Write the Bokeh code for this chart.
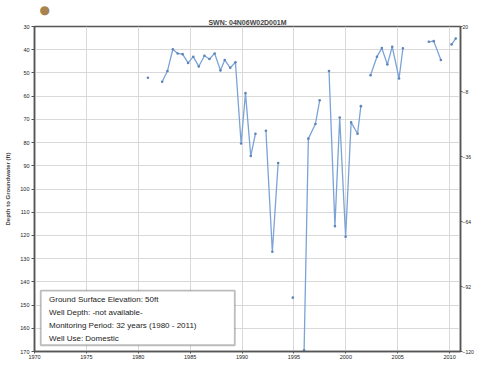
from bokeh.plotting import figure
from bokeh.models import (Range1d, LinearAxis, FixedTicker, BoxAnnotation, Label, Title)
from bokeh.embed import file_html
from bokeh.resources import INLINE

nan = float("nan")

# Measurement dates (decimal years) and depth to groundwater (ft); NaN = gap
years = [1980.93, nan,
         1982.30, 1982.81, 1983.33, 1983.80, 1984.27, 1984.80, 1985.30, 1985.83,
         1986.37, 1986.86, 1987.36, 1987.92, 1988.33, 1988.86, 1989.36, 1989.91,
         1990.33, 1990.84, 1991.29, nan,
         1992.30, 1992.92, 1993.48, nan,
         1994.89, nan,
         1995.98, 1996.39, 1997.07, 1997.48, nan,
         1998.38, 1998.95, 1999.41, 1999.98, 2000.51, 2001.13, 2001.45, nan,
         2002.38, 2003.00, 2003.47, 2004.00, 2004.47, 2005.13, 2005.50, nan,
         2008.00, 2008.47, 2009.16, nan,
         2010.19, 2010.59]
depth = [52.1, nan,
         53.8, 49.2, 39.8, 41.6, 41.9, 45.7, 43.0, 47.2,
         42.6, 44.0, 41.6, 48.9, 44.4, 47.8, 45.4, 80.4,
         58.7, 85.8, 76.2, nan,
         74.9, 127.0, 88.8, nan,
         146.8, nan,
         169.5, 78.3, 72.0, 61.8, nan,
         49.2, 116.0, 69.2, 120.6, 71.3, 76.2, 64.3, nan,
         51.0, 43.0, 39.3, 46.4, 38.7, 52.4, 39.4, nan,
         36.6, 36.3, 44.4, nan,
         37.7, 35.2]

ground_elev = 50
x_ticks = [1970, 1975, 1980, 1985, 1990, 1995, 2000, 2005, 2010]
depth_ticks = list(range(30, 171, 10))
elev_ticks = [20, -8, -36, -64, -92, -120]
title_text = "SWN: 04N06W02D001M"
info_lines = ["Ground Surface Elevation: 50ft",
              "Well Depth: -not available-",
              "Monitoring Period: 32 years (1980 - 2011)",
              "Well Use: Domestic"]

FONT = "Liberation Sans"
LINE_C = "#7ba3d6"
DOT_C = "#5d84b8"
GRID_C = "#d9d9d9"
AX_C = "#555555"

# logo as the outer title row
logo = Title(text="\u25cf", align="left", offset=5, text_font="DejaVu Sans",
             text_font_size="12px", text_color="#a8834f", standoff=0)

p = figure(width=476, height=361, output_backend="svg", toolbar_location=None,
           x_range=Range1d(1970, 2011.05), y_range=Range1d(170, 30),
           min_border_left=34, min_border_right=0, min_border_top=22,
           min_border_bottom=0, title=logo)

main_title = Title(text=title_text, align="center", text_font=FONT,
                   text_font_size="7px", text_font_style="bold", standoff=1)
p.add_layout(main_title, "above")

p.outline_line_color = AX_C
p.outline_line_width = 1.5
p.background_fill_color = "white"
p.border_fill_color = "white"

# axes
p.xaxis.ticker = FixedTicker(ticks=x_ticks)
p.yaxis.ticker = FixedTicker(ticks=depth_ticks)
for ax in (p.xaxis[0], p.yaxis[0]):
    ax.axis_line_color = AX_C
    ax.axis_line_width = 1.5
    ax.major_tick_line_color = AX_C
    ax.major_tick_out = 3
    ax.major_tick_in = 0
    ax.minor_tick_line_color = None
    ax.major_label_text_font = FONT
    ax.major_label_text_font_size = "5.5px"
    ax.major_label_text_color = "#222222"
    ax.major_label_standoff = 2
p.xaxis.major_label_standoff = 1
p.xaxis.major_tick_out = 2
p.yaxis.axis_label = "Depth to Groundwater (ft)"
p.yaxis.axis_label_text_font = FONT
p.yaxis.axis_label_text_font_size = "6px"
p.yaxis.axis_label_text_font_style = "bold"
p.yaxis.axis_label_standoff = 6

p.extra_y_ranges = {"elev": Range1d(ground_elev - 170, ground_elev - 30)}
rax = LinearAxis(y_range_name="elev", ticker=FixedTicker(ticks=elev_ticks))
rax.axis_line_color = AX_C
rax.axis_line_width = 1.5
rax.major_tick_line_color = AX_C
rax.major_tick_out = 2
rax.major_tick_in = 0
rax.minor_tick_line_color = None
rax.major_label_text_font = FONT
rax.major_label_text_font_size = "5px"
rax.major_label_text_color = "#222222"
rax.major_label_standoff = 0
p.add_layout(rax, "right")

p.xgrid.ticker = FixedTicker(ticks=x_ticks)
p.ygrid.ticker = FixedTicker(ticks=depth_ticks)
p.xgrid.grid_line_color = GRID_C
p.ygrid.grid_line_color = GRID_C
p.xgrid.grid_line_width = 1
p.ygrid.grid_line_width = 1

# data
p.line(years, depth, line_color=LINE_C, line_width=1.3)
p.scatter(years, depth, size=2.6, fill_color=DOT_C, line_color=None)

# info box
p.add_layout(BoxAnnotation(left=1970.6, right=1989.3, top=143.8, bottom=167.3,
                           fill_color="white", fill_alpha=1,
                           line_color="#222222", line_width=1.8, level="overlay"))
p.add_layout(Label(x=1971.4, y=145.6, text="\n".join(info_lines),
                   text_font=FONT, text_font_size="8px", text_color="#222222",
                   text_baseline="top", text_line_height=1.45, level="overlay"))

open("out.html", "w").write(file_html(p, INLINE))
